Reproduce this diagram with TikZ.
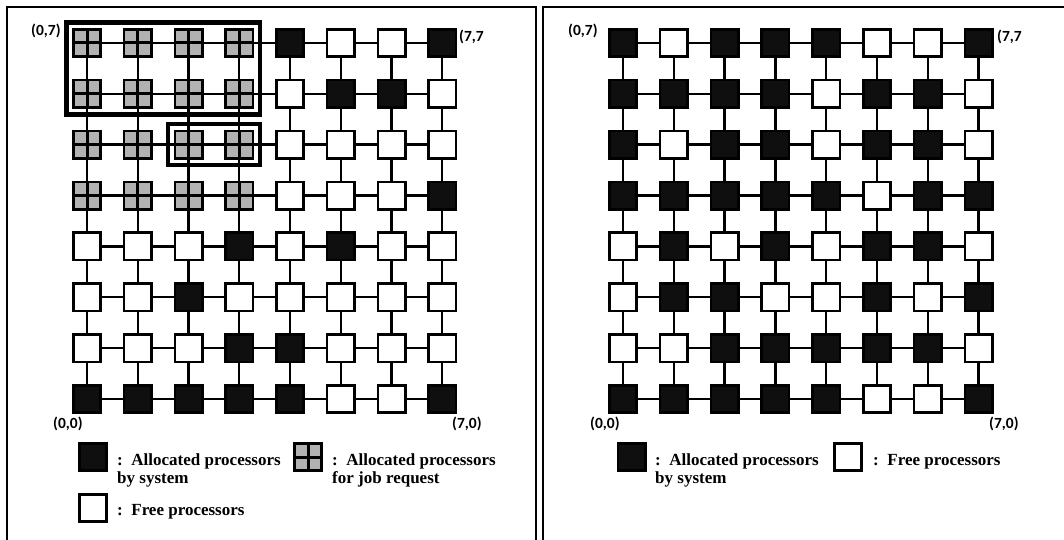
\documentclass[tikz,border=0pt]{standalone}
\usepackage{fontspec}
\setmainfont{Liberation Serif}
\newfontfamily\coordfont{Carlito}
\usetikzlibrary{fit}
\pgfdeclarelayer{background}
\pgfsetlayers{background,main}
\definecolor{procblack}{HTML}{0F0F0F}
\definecolor{procgray}{HTML}{B2B2B2}
\tikzset{
 procbase/.style={rectangle, draw=black, line width=2.6pt, minimum size=27.4pt, inner sep=0pt},
 procb/.style={procbase, fill=procblack},
 procw/.style={procbase, fill=white},
 procg/.style={procbase, fill=procgray, path picture={\draw[line width=3pt] (path picture bounding box.north) -- (path picture bounding box.south) (path picture bounding box.west) -- (path picture bounding box.east);}},
 link/.style={line width=2.4pt},
 coordlabel/.style={font=\coordfont\bfseries\fontsize{15.5}{17}\selectfont, inner sep=0pt, anchor=base west},
 legendtext/.style={font=\bfseries\fontsize{17}{18}\selectfont, inner sep=0pt, anchor=base west, align=left},
 jobbox/.style={draw, line width=4.5pt, inner sep=5.5pt},
 panel/.style={draw, line width=2pt}
}
\begin{document}
\begin{tikzpicture}[x=1pt,y=-1pt]
\useasboundingbox (0,0) rectangle (1064,540);
\begin{pgfonlayer}{background}
\fill[white] (0,0) rectangle (1064,540);
\end{pgfonlayer}
\clip (0,0) rectangle (1064,540);
% panels
\draw[panel] (7,7) rectangle (536,570);
\draw[panel] (543,7) rectangle (1080,570);
% left grid
\foreach \r/\row in {7/{g,g,g,g,b,w,w,b},6/{g,g,g,g,w,b,b,w},5/{g,g,g,g,w,w,w,w},4/{g,g,g,g,w,w,w,b},3/{w,w,w,b,w,b,w,w},2/{w,w,b,w,w,w,w,w},1/{w,w,w,b,b,w,w,w},0/{b,b,b,b,b,w,w,b}}{
  \foreach \t [count=\c from 0] in \row {
    \edef\procsty{proc\t}
    \node[\procsty] (L-\c-\r) at ({87+50.75*\c},{43+50.85*(7-\r)}) {};
  }
}
% right grid
\foreach \r/\row in {7/{b,w,b,b,b,w,w,b},6/{b,b,b,b,w,b,b,w},5/{b,w,b,b,w,b,b,w},4/{b,b,b,b,b,w,b,b},3/{w,b,w,b,w,b,b,w},2/{w,b,b,w,w,b,w,b},1/{w,w,b,b,b,b,b,w},0/{b,b,b,b,b,w,w,b}}{
  \foreach \t [count=\c from 0] in \row {
    \edef\procsty{proc\t}
    \node[\procsty] (R-\c-\r) at ({623+50.8*\c},{43+50.85*(7-\r)}) {};
  }
}
% links (behind the processors)
\begin{pgfonlayer}{background}
\foreach \s in {L,R}{
  \foreach \c [evaluate=\c as \cn using int(\c+1)] in {0,...,6}{
    \foreach \r in {0,...,7}{
      \draw[link] (\s-\c-\r.center) -- (\s-\cn-\r.center);
    }
  }
  \foreach \c in {0,...,7}{
    \foreach \r [evaluate=\r as \rn using int(\r+1)] in {0,...,6}{
      \draw[link] (\s-\c-\r.center) -- (\s-\c-\rn.center);
    }
  }
}
\end{pgfonlayer}
% job request boxes
\node[jobbox, fit=(L-0-7)(L-3-6)] (bigjob) {};
\node[jobbox, fit=(L-2-5)(L-3-5)] (smalljob) {};
% coordinate labels
\node[coordlabel] (L07) at (31,36) {(0,7)};
\node[coordlabel] (L77) at (459,42) {(7,7};
\node[coordlabel] (L00) at (53,428) {(0,0)};
\node[coordlabel] (L70) at (452,428) {(7,0)};
\node[coordlabel] (R07) at (568,36) {(0,7)};
\node[coordlabel] (R77) at (997,42) {(7,7};
\node[coordlabel] (R00) at (590,428) {(0,0)};
\node[coordlabel] (R70) at (989,428) {(7,0)};
% left legend
\node[procb] (LlegB) at (93,457) {};
\node[legendtext] (LlegBt) at (117,483) {:\ \ Allocated processors\\by system};
\node[procg] (LlegG) at (308,457) {};
\node[legendtext] (LlegGt) at (332,483) {:\ \ Allocated processors\\for job request};
\node[procw] (LlegW) at (93,508) {};
\node[legendtext] (LlegWt) at (117,515) {:\ \ Free processors};
% right legend
\node[procb] (RlegB) at (631.5,457) {};
\node[legendtext] (RlegBt) at (655,483) {:\ \ Allocated processors\\by system};
\node[procw] (RlegW) at (848,457) {};
\node[legendtext] (RlegWt) at (873,465) {:\ \ Free processors};
\end{tikzpicture}
\end{document}
